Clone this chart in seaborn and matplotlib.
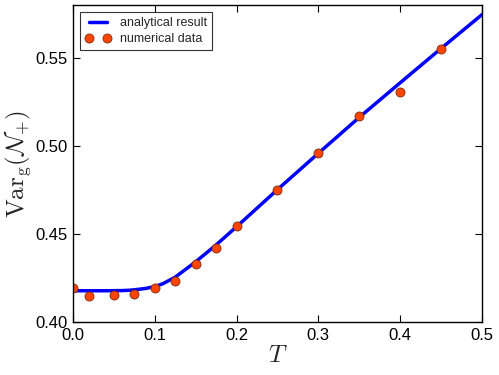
import numpy as np
import pandas as pd
import seaborn as sns
import matplotlib.pyplot as plt

# analytical curve
curve_T = [0.0, 0.02, 0.04, 0.06, 0.07, 0.08, 0.09, 0.10, 0.11, 0.125,
           0.15, 0.175, 0.2, 0.25, 0.3, 0.35, 0.4, 0.45, 0.5]
curve_var = [0.4178, 0.4178, 0.4178, 0.4179, 0.4181, 0.4186, 0.4192, 0.4202,
             0.4218, 0.4255, 0.4342, 0.4438, 0.4541, 0.4752, 0.4958, 0.5162,
             0.5358, 0.5553, 0.5745]

# numerical data points
data_T = [0.0, 0.02, 0.05, 0.075, 0.1, 0.125, 0.15, 0.175, 0.2,
          0.25, 0.3, 0.35, 0.4, 0.45]
data_var = [0.4191, 0.4150, 0.4153, 0.4161, 0.4191, 0.4233, 0.4328, 0.4419,
            0.4545, 0.4752, 0.4962, 0.5167, 0.5303, 0.5551]

xticks = [0.0, 0.1, 0.2, 0.3, 0.4, 0.5]
yticks = [0.40, 0.45, 0.50, 0.55]

curve = pd.DataFrame({"T": curve_T, "var": curve_var})
points = pd.DataFrame({"T": data_T, "var": data_var})

sns.set_style("ticks")
plt.rcParams["font.family"] = ["Liberation Sans", "DejaVu Sans"]
plt.rcParams["mathtext.fontset"] = "cm"

fig, ax = plt.subplots(figsize=(4.99, 3.75), dpi=100)
fig.subplots_adjust(left=0.146, right=0.966, top=0.987, bottom=0.141)

sns.lineplot(data=curve, x="T", y="var", color="#0000ff", linewidth=2.5,
             ax=ax, label="analytical result")
ax.plot(points["T"], points["var"], "o", color="#ff4500", markeredgecolor="#7a2a10",
        markeredgewidth=0.6, markersize=6.5, label="numerical data")

ax.set_xlim(0, 0.5)
ax.set_ylim(0.40, 0.58)
ax.set_xticks(xticks)
ax.set_yticks(yticks)
ax.set_xticklabels(["%.1f" % t for t in xticks])
ax.set_yticklabels(["%.2f" % t for t in yticks])
ax.tick_params(direction="in", top=True, right=True, length=5, width=0.8,
               labelsize=12, colors="black", pad=4)
for s in ax.spines.values():
    s.set_color("black")
    s.set_linewidth(1.0)

ax.set_xlabel(r"$T$", fontsize=18, labelpad=0)
ax.set_ylabel(r"$\mathrm{Var}_{\mathrm{g}}(\mathcal{N}_{+})$", fontsize=18)
ax.yaxis.set_label_coords(-0.098, 0.5)

leg = ax.legend(loc="upper left", numpoints=2, fontsize=9, fancybox=False,
                frameon=True, handlelength=2.0, borderaxespad=0.6,
                labelspacing=0.3, handletextpad=0.8)
leg.get_frame().set_edgecolor("black")
leg.get_frame().set_linewidth(0.8)

fig.savefig("out.png", dpi=100)
